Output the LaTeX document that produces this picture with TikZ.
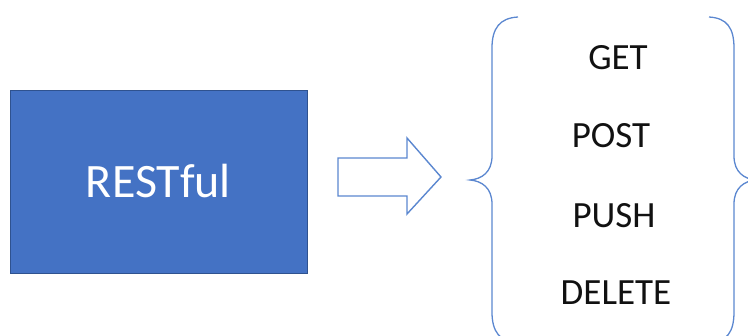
\documentclass[tikz,border=0pt]{standalone}
\usepackage{fontspec}
\setmainfont{Carlito}
\definecolor{boxfill}{HTML}{4472C4}
\definecolor{boxline}{HTML}{2F528F}
\definecolor{outl}{HTML}{5B87D0}
\definecolor{txt}{HTML}{111111}
\begin{document}
\begin{tikzpicture}[x=1pt,y=-1pt,
  restbox/.style={draw=boxline,line width=0.9pt,fill=boxfill,text=white,
    minimum width=297pt,minimum height=183pt,inner sep=0pt,
    font=\fontsize{48}{58}\selectfont},
  method/.style={anchor=base,text=txt,inner sep=0pt,font=\fontsize{37}{44}\selectfont},
  bracestyle/.style={draw=outl,line width=1.3pt},
  blockarrow/.style={draw=outl,line width=1.4pt,fill=white,line join=miter}]
\useasboundingbox (0,0) rectangle (748,336);
\node[restbox] (rest) at (158.5,181.5) {RESTful};
% block arrow
\draw[blockarrow] (338,158) -- (407,158) -- (407,138) -- (441,177) -- (407,214) -- (407,196) -- (338,196) -- cycle;
% method labels
\node[method] (get) at (618,70) {GET};
\node[method] (post) at (611,148) {POST};
\node[method] (push) at (614,228) {PUSH};
\node[method] (delete) at (616,305) {DELETE};
% braces
\begin{scope}
\clip (0,0) rectangle (748,336);
\draw[bracestyle] (518,17) .. controls (500,18) and (492,28) .. (492,48)
  -- (492,156) .. controls (492,172) and (482,179) .. (470,180)
  .. controls (482,181) and (492,188) .. (492,204)
  -- (492,312) .. controls (492,332) and (500,342) .. (518,343);
\draw[bracestyle] (709,17) .. controls (727,18) and (734,28) .. (734,48)
  -- (734,156) .. controls (734,172) and (744,179) .. (756,180)
  .. controls (744,181) and (734,188) .. (734,204)
  -- (734,312) .. controls (734,332) and (727,342) .. (709,343);
\end{scope}
\end{tikzpicture}
\end{document}
